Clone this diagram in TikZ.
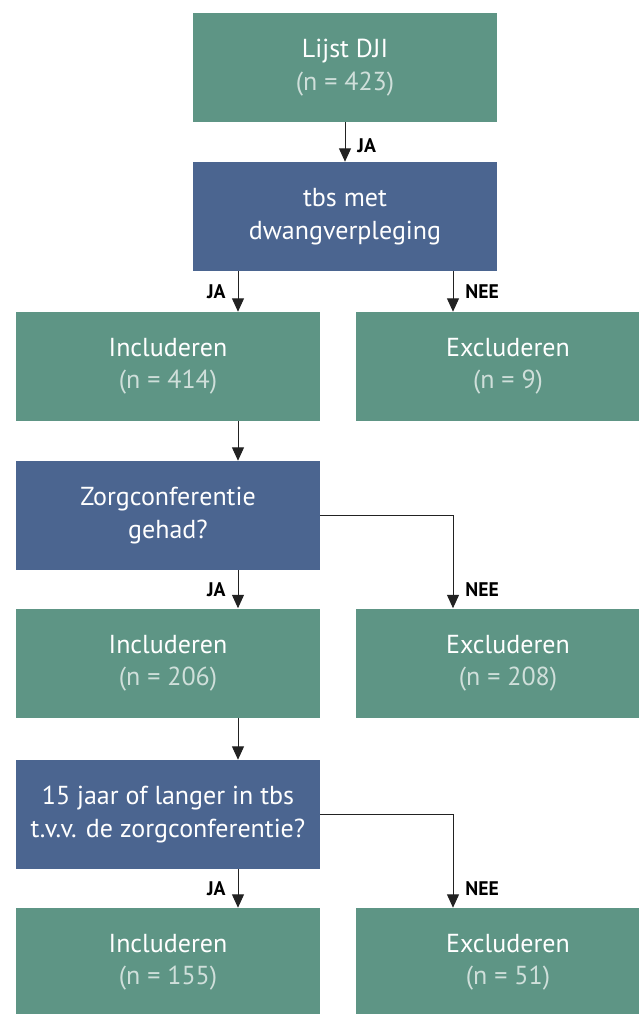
\documentclass[tikz,border=0pt]{standalone}
\usepackage{fontspec}
\setmainfont{PT Sans}
\usetikzlibrary{arrows.meta}
\definecolor{vakgroen}{HTML}{5E9585}
\definecolor{vakblauw}{HTML}{4B6590}
\definecolor{lijngrijs}{HTML}{222222}
\colorlet{ntekst}{white!70!vakgroen}
\newcommand{\aantal}[1]{{\color{ntekst}(n = #1)}}

\begin{document}
\begin{tikzpicture}[
        % --- ALGEMENE INSTELLINGEN ---
        % stijl voor de groene vakken (resultaat)
        stap/.style={
            rectangle,
            fill=vakgroen,
            text=white,
            minimum width=7.6cm,
            minimum height=2.725cm,
            inner sep=0pt,
            align=center,
            font=\fontsize{18.5}{23}\selectfont
        },
        % stijl voor de blauwe vakken (vraag)
        vraag/.style={
            stap,
            fill=vakblauw
        },
        % stijl voor de pijlen
        pijl/.style={
            -{Triangle[width=8.5pt,length=9.5pt]},
            line width=0.7pt,
            draw=lijngrijs
        },
        % stijl voor JA / NEE
        keuze/.style={
            font=\fontsize{14}{16}\selectfont\bfseries,
            text=black,
            inner xsep=0.3cm,
            inner ysep=0pt
        }
    ]

    % vaste maten van het plaatje
    \useasboundingbox (0,0) rectangle (15.975,-25.35);

    % kolommen voor de pijlen
    \coordinate (jaX) at (5.95,0);
    \coordinate (neeX) at (11.325,0);

    % --- BOVENSTE DEEL ---
    \node[stap] (lijst) at (8.625,-1.6875) {Lijst DJI\\ \aantal{423}};
    \node[vraag] (tbs) at (8.625,-5.4125) {tbs met\\ dwangverpleging};

    \draw[pijl] (lijst) -- node[keuze, right, pos=0.6] {JA} (tbs);

    % --- RIJ 1 ---
    \node[stap] (incl1) at (4.2,-9.1625) {Includeren\\ \aantal{414}};
    \node[stap] (excl1) at (12.7,-9.1625) {Excluderen\\ \aantal{9}};

    \draw[pijl] (tbs.south -| jaX) -- node[keuze, left] {JA} (incl1.north -| jaX);
    \draw[pijl] (tbs.south -| neeX) -- node[keuze, right] {NEE} (excl1.north -| neeX);

    % --- RIJ 2 ---
    \node[vraag] (zorg) at (4.2,-12.8875) {Zorgconferentie\\ gehad?};
    \node[stap] (incl2) at (4.2,-16.575) {Includeren\\ \aantal{206}};
    \node[stap] (excl2) at (12.7,-16.575) {Excluderen\\ \aantal{208}};

    \draw[pijl] (incl1.south -| jaX) -- (zorg.north -| jaX);
    \draw[pijl] (zorg.south -| jaX) -- node[keuze, left] {JA} (incl2.north -| jaX);
    \draw[pijl] (zorg.east) -| node[keuze, right, pos=0.9] {NEE} (excl2.north -| neeX);

    % --- RIJ 3 ---
    \node[vraag] (jaren) at (4.2,-20.3625) {15 jaar of langer in tbs\\ t.v.v. de zorgconferentie?};
    \node[stap] (incl3) at (4.2,-24.0625) {Includeren\\ \aantal{155}};
    \node[stap] (excl3) at (12.7,-24.0625) {Excluderen\\ \aantal{51}};

    \draw[pijl] (incl2.south -| jaX) -- (jaren.north -| jaX);
    \draw[pijl] (jaren.south -| jaX) -- node[keuze, left] {JA} (incl3.north -| jaX);
    \draw[pijl] (jaren.east) -| node[keuze, right, pos=0.9] {NEE} (excl3.north -| neeX);

\end{tikzpicture}
\end{document}
